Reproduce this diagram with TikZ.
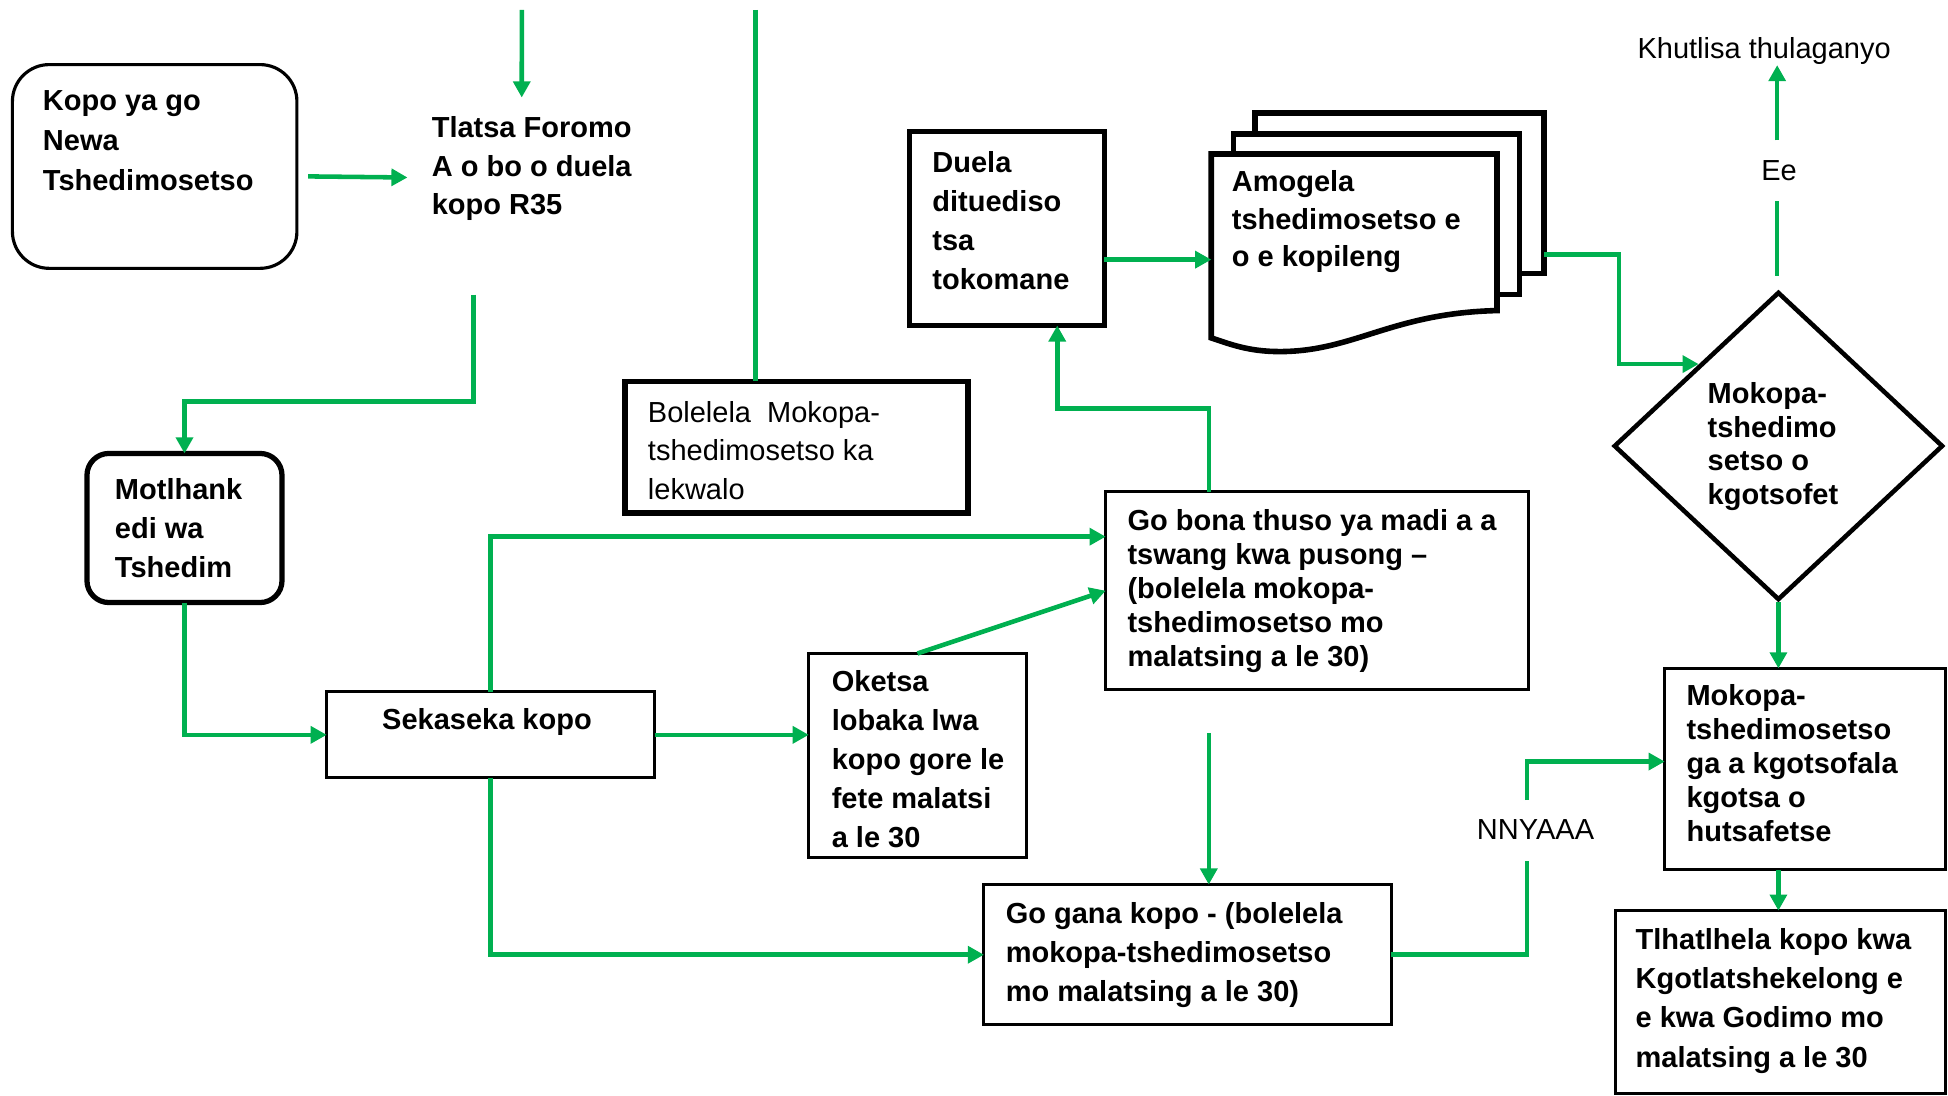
\documentclass[tikz,border=0pt]{standalone}
\usepackage{fontspec}
\setmainfont{Liberation Sans}
\usetikzlibrary{arrows.meta,calc,fit,shapes.geometric}
\definecolor{grn}{RGB}{0,176,80}
\begin{document}
\begin{tikzpicture}[x=0.0125cm,y=-0.0125cm,
  conn/.style={draw=grn,line width=1.3pt},
  arr/.style={conn,-{Triangle[length=4.6pt,width=4.8pt]}},
  thinbox/.style={draw,line width=0.85pt,inner sep=0pt,outer sep=0pt},
  thickbox/.style={draw,line width=1.6pt,inner sep=0pt,outer sep=0pt},
  bx/.style={inner sep=0pt,outer sep=0pt},
  txt/.style={font=\bfseries\fontsize{8.3}{#1}\selectfont,align=left,anchor=north west,inner sep=0pt},
  txt/.default=11.2,
  plain/.style={font=\fontsize{8.3}{11}\selectfont,inner sep=0pt}]

\useasboundingbox (0,0) rectangle (1568,882);

% boxes
\node[draw,line width=0.9pt,rounded corners=0.37cm,bx,fit={(10,52)(239,216)}] (kopo) {};
\node[draw,line width=1.5pt,rounded corners=0.22cm,bx,fit={(70,365)(227,485)}] (mot) {};
\node[thinbox,fit={(263,557)(527,626)}] (sek) {};
\node[thinbox,fit={(651,526)(826,690)}] (oke) {};
\node[thinbox,fit={(890,396)(1230,555)}] (gob) {};
\node[thickbox,fit={(732,106)(889,262)}] (due) {};
\node[thickbox,fit={(503,307)(779,413)}] (bol) {};
\node[thinbox,fit={(792,712)(1120,825)}] (gog) {};
\node[thinbox,fit={(1340,538)(1566,700)}] (mok) {};
\node[thinbox,fit={(1300,733)(1566,880)}] (tlh) {};

% multi-document
\filldraw[line width=1.6pt,fill=white] (1010,91) rectangle (1243,220);
\filldraw[line width=1.6pt,fill=white] (993,108) rectangle (1223,237);
\filldraw[line width=1.6pt,fill=white] (975,124) -- (1205,124) -- (1205,250)
  .. controls (1120,252) and (1090,283) .. (1030,283)
  .. controls (1005,283) and (990,277) .. (975,272) -- cycle;
\node[bx,fit={(975,124)(1205,283)}] (amo) {};
\node[bx,fit={(1010,91)(1243,220)}] (amob) {};

% diamond
\node[draw,line width=1.3pt,diamond,minimum width=3.3125cm,minimum height=3.1cm,inner sep=0pt] (dia) at (1431.5,359) {};

% texts
\node[txt=11.4] (kopoT) at (34,72.5) {Kopo ya go\\Newa\\Tshedimosetso};
\node[txt=11.0] (tlaT) at (347,93.5) {Tlatsa Foromo\\A o bo o duela\\kopo R35};
\node[txt] (motT) at (92,384.5) {Motlhank\\edi wa\\Tshedim};
\node[font=\bfseries\fontsize{8.3}{10}\selectfont,inner sep=0pt] (sekT) at (392,581.5) {Sekaseka kopo};
\node[txt=11.1] (okeT) at (669,539.5) {Oketsa\\lobaka lwa\\kopo gore le\\fete malatsi\\a le 30};
\node[txt=9.75] (gobT) at (907,409.5) {Go bona thuso ya madi a a\\tswang kwa pusong –\\(bolelela mokopa-\\tshedimosetso mo\\malatsing a le 30)};
\node[txt=11.1] (dueT) at (750,121.5) {Duela\\dituediso\\tsa\\tokomane};
\node[txt=10.8] (amoT) at (991,136.5) {Amogela\\tshedimosetso e\\o e kopileng};
\node[txt=9.6] (diaT) at (1374,307.5) {Mokopa-\\tshedimo\\setso o\\kgotsofet};
\node[txt=9.7] (mokT) at (1357,550.5) {Mokopa-\\tshedimosetso\\ga a kgotsofala\\kgotsa o\\hutsafetse};
\node[txt=11.25] (tlhT) at (1316,746.5) {Tlhatlhela kopo kwa\\Kgotlatshekelong e\\e kwa Godimo mo\\malatsing a le 30};
\node[txt] (gogT) at (809,725.5) {Go gana kopo - (bolelela\\mokopa-tshedimosetso\\mo malatsing a le 30)};
\node[txt=11.0,font=\fontsize{8.3}{11}\selectfont] (bolT) at (521,322.5) {Bolelela\ \ Mokopa-\\tshedimosetso ka\\lekwalo};

\node[plain] (khu) at (1420,41) {Khutlisa thulaganyo};
\node[plain] (ee) at (1432,137) {Ee};
\node[plain] (nny) at (1236,668) {NNYAAA};

% connectors
\coordinate (topA) at (420,8);
\coordinate (bA) at (608,8);
\coordinate (gA) at (973,590);
\coordinate (yA) at (0,432);
\coordinate (eeA) at (1430.5,162);
\coordinate (eeB) at (1430.5,113);

\draw[arr] ($(kopo.east)+(9,8)$) -- ($(tlaT.west)+(-19,7)$);
\draw[arr] (topA) -- ($(tlaT.north)+(-8,-15)$);
\draw[arr] ($(tlaT.south)+(-47,59)$) -- ++(0,86) -| (mot.north);
\draw[arr] (mot.south) |- (sek.west);
\draw[arr] (sek.east) -- (sek.east -| oke.west);
\draw[arr] (sek.north) |- (gob.west |- yA);
\draw[arr] (sek.south) |- (gog.west);
\draw[arr] (oke.north) -- (gob.west);
\draw[arr] ($(gob.north west)+(83,0)$) -- ++(0,-67) -| ($(due.south west)+(119,0)$);
\draw[arr] ($(due.east)+(0,25)$) coordinate (dA) -- (dA -| amo.west);
\draw[arr] ($(amob.east)+(0,49.5)$) -- ++(60,0) |- ($(dia.north west)+(3,-3)$);
\draw[conn] ($(dia.north)+(-1,-11)$) -- (eeA);
\draw[arr] (eeB) -- (eeB |- khu.south);
\draw[arr] (dia.south) -- (dia.south |- mok.north);
\draw[arr] (dia.south |- mok.south) -- (dia.south |- tlh.north);
\draw[conn] (gog.east) -| ($(nny)+(-7,25)$);
\draw[arr] ($(nny)+(-7,-24)$) |- ($(mok.west)+(0,-6)$);
\draw[arr] (gA) -- (gA |- gog.north);
\draw[conn] (bA) -- (bA |- bol.north);
\end{tikzpicture}
\end{document}
